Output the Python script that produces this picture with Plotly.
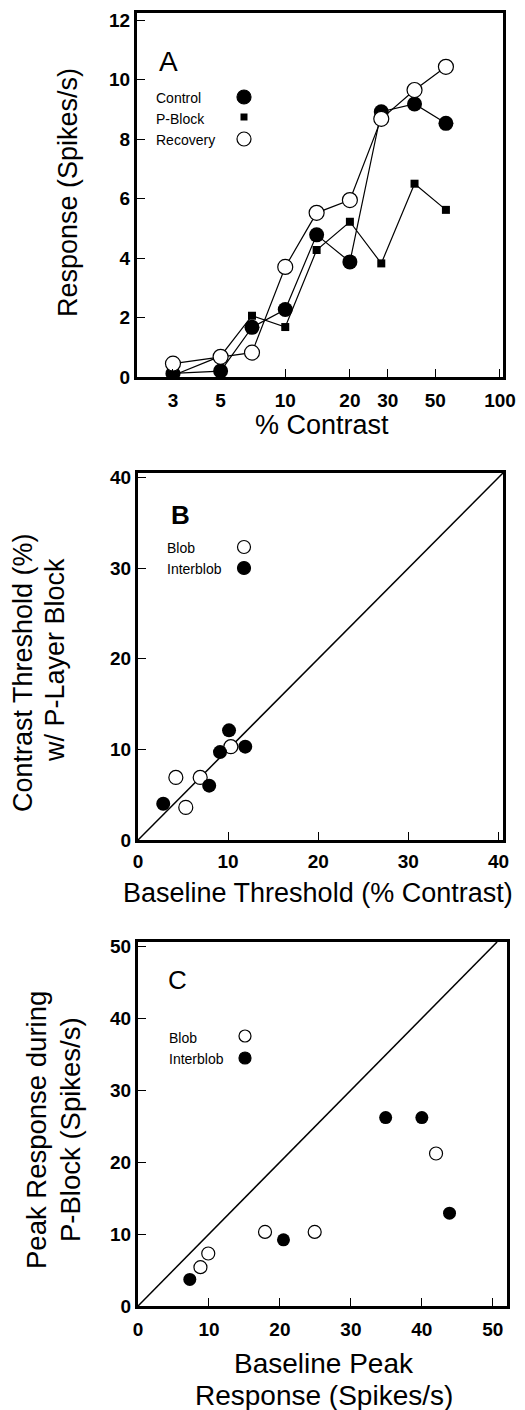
import math
import plotly.graph_objects as go

W, H = 525, 1410

# ---------------- Data ----------------
contrast = [3, 5, 7, 10, 14, 20, 28, 40, 56]
control = [0.12, 0.2, 1.67, 2.27, 4.78, 3.87, 8.92, 9.18, 8.53]
pblock = [0.05, 0.7, 2.06, 1.68, 4.27, 5.22, 3.82, 6.5, 5.62]
recovery = [0.45, 0.68, 0.82, 3.7, 5.52, 5.95, 8.68, 9.65, 10.43]

b_blob_x = [4.2, 5.3, 6.9, 10.3]
b_blob_y = [6.9, 3.6, 6.9, 10.3]
b_inter_x = [2.8, 7.9, 9.1, 10.1, 11.9]
b_inter_y = [4.0, 6.0, 9.7, 12.1, 10.3]

c_blob_x = [8.8, 9.9, 17.9, 24.9, 42.0]
c_blob_y = [5.4, 7.3, 10.3, 10.3, 21.2]
c_inter_x = [7.3, 20.5, 34.9, 40.0, 43.9]
c_inter_y = [3.7, 9.2, 26.2, 26.2, 12.9]

a_xticks = [3, 5, 10, 20, 30, 50, 100]
a_yticks = [0, 2, 4, 6, 8, 10, 12]
b_ticks = [0, 10, 20, 30, 40]
c_ticks = [0, 10, 20, 30, 40, 50]

FONT = "Arial, Liberation Sans, Helvetica, sans-serif"


def px(x):
    return x / W


def py(y):
    return 1 - y / H


fig = go.Figure()

# Panel A
line = dict(color="black", width=1.2)
fig.add_trace(go.Scatter(x=contrast, y=pblock, mode="lines+markers", line=line,
                         marker=dict(symbol="square", size=8, color="black"),
                         xaxis="x", yaxis="y", showlegend=False))
fig.add_trace(go.Scatter(x=contrast, y=control, mode="lines+markers", line=line,
                         marker=dict(symbol="circle", size=15, color="black"),
                         xaxis="x", yaxis="y", showlegend=False))
fig.add_trace(go.Scatter(x=contrast, y=recovery, mode="lines+markers", line=line,
                         marker=dict(symbol="circle", size=15, color="white",
                                     line=dict(color="black", width=1.2)),
                         xaxis="x", yaxis="y", showlegend=False))

# Panel B
fig.add_trace(go.Scatter(x=[0, 40.5], y=[0, 40.5], mode="lines",
                         line=dict(color="black", width=1.5),
                         xaxis="x2", yaxis="y2", showlegend=False))
fig.add_trace(go.Scatter(x=b_blob_x, y=b_blob_y, mode="markers",
                         marker=dict(size=14, color="white", line=dict(color="black", width=1.2)),
                         xaxis="x2", yaxis="y2", showlegend=False))
fig.add_trace(go.Scatter(x=b_inter_x, y=b_inter_y, mode="markers",
                         marker=dict(size=14, color="black"),
                         xaxis="x2", yaxis="y2", showlegend=False))

# Panel C
fig.add_trace(go.Scatter(x=[0, 50.6], y=[0, 50.6], mode="lines",
                         line=dict(color="black", width=1.5),
                         xaxis="x3", yaxis="y3", showlegend=False))
fig.add_trace(go.Scatter(x=c_blob_x, y=c_blob_y, mode="markers",
                         marker=dict(size=13, color="white", line=dict(color="black", width=1.2)),
                         xaxis="x3", yaxis="y3", showlegend=False))
fig.add_trace(go.Scatter(x=c_inter_x, y=c_inter_y, mode="markers",
                         marker=dict(size=13, color="black"),
                         xaxis="x3", yaxis="y3", showlegend=False))


def axis(domain, rng, tickvals, ticktext=None, typ="linear", anchor=None, standoff=None):
    d = dict(domain=domain, range=rng, type=typ, tickvals=tickvals,
             showline=True, mirror=True, linecolor="black", linewidth=3,
             ticks="inside", ticklen=8, tickwidth=1, tickcolor="black",
             showgrid=False, zeroline=False, anchor=anchor, automargin=False,
             tickfont=dict(family=FONT, size=19, color="black", weight="bold"))
    if ticktext is not None:
        d["ticktext"] = ticktext
    if standoff is not None:
        d["ticklabelstandoff"] = standoff
    return d


fig.update_layout(
    width=W, height=H,
    margin=dict(l=0, r=0, t=0, b=0, autoexpand=False),
    paper_bgcolor="white", plot_bgcolor="white",
    xaxis=axis([px(137), px(503)], [math.log10(2.04), 2.014], a_xticks,
               [str(v) for v in a_xticks], typ="log", anchor="y", standoff=4),
    yaxis=axis([py(377), py(13)], [0, 12.24], a_yticks, anchor="x"),
    xaxis2=axis([px(138), px(503)], [0, 40.5], b_ticks, anchor="y2", standoff=2),
    yaxis2=axis([py(840), py(473)], [0, 40.5], b_ticks, anchor="x2"),
    xaxis3=axis([px(138), px(507)], [0, 52], c_ticks, anchor="y3", standoff=4),
    yaxis3=axis([py(1306), py(942)], [0, 50.6], c_ticks, anchor="x3"),
)

ann = []


def text(x, y, s, size=27, angle=0, xanchor="center", bold=False):
    ann.append(dict(x=px(x), y=py(y), xref="paper", yref="paper", text=s,
                    showarrow=False, xanchor=xanchor, yanchor="middle",
                    textangle=angle, borderpad=0,
                    font=dict(family=FONT, size=size, color="black",
                              weight="bold" if bold else "normal")))


# Axis titles
text(68, 193, "Response (Spikes/s)", 27, -90)
text(322, 425, "% Contrast", 27)
text(23, 673, "Contrast Threshold (%)", 27, -90)
text(55, 660, "w/ P-Layer Block", 27, -90)
text(318, 893, "Baseline Threshold (% Contrast)", 27)
text(36, 1130, "Peak Response during", 27.5, -90)
text(70, 1130, "P-Block (Spikes/s)", 27.5, -90)
text(324, 1363, "Baseline Peak", 28)
text(324, 1395, "Response (Spikes/s)", 28)

# Panel letters
text(168, 61, "A", 28)
text(180, 515, "B", 26, bold=True)
text(177, 980, "C", 26)

# Legend texts
text(155, 98, "Control", 14, xanchor="left")
text(155, 119, "P-Block", 14, xanchor="left")
text(155, 140, "Recovery", 14, xanchor="left")
text(166, 548, "Blob", 14, xanchor="left")
text(166, 569, "Interblob", 14, xanchor="left")
text(168, 1038, "Blob", 14, xanchor="left")
text(168, 1059, "Interblob", 14, xanchor="left")
fig.update_layout(annotations=ann)

shapes = []


def circ(cx, cy, r, filled):
    shapes.append(dict(type="circle", xref="paper", yref="paper",
                       x0=px(cx - r), x1=px(cx + r), y0=py(cy + r), y1=py(cy - r),
                       fillcolor="black" if filled else "white",
                       line=dict(color="black", width=1.2)))


def sq(cx, cy, r):
    shapes.append(dict(type="rect", xref="paper", yref="paper",
                       x0=px(cx - r), x1=px(cx + r), y0=py(cy + r), y1=py(cy - r),
                       fillcolor="black", line=dict(color="black", width=0)))


circ(244, 97, 7, True)
sq(244, 117, 3.5)
circ(244, 139, 7, False)
circ(244, 547, 6.5, False)
circ(244, 568, 6.5, True)
circ(245, 1036, 6, False)
circ(245, 1058, 6, True)
fig.update_layout(shapes=shapes)

fig.write_html("out.html", config={"displayModeBar": False},
               post_script="document.body.style.margin='0px';document.body.style.overflow='hidden';")
